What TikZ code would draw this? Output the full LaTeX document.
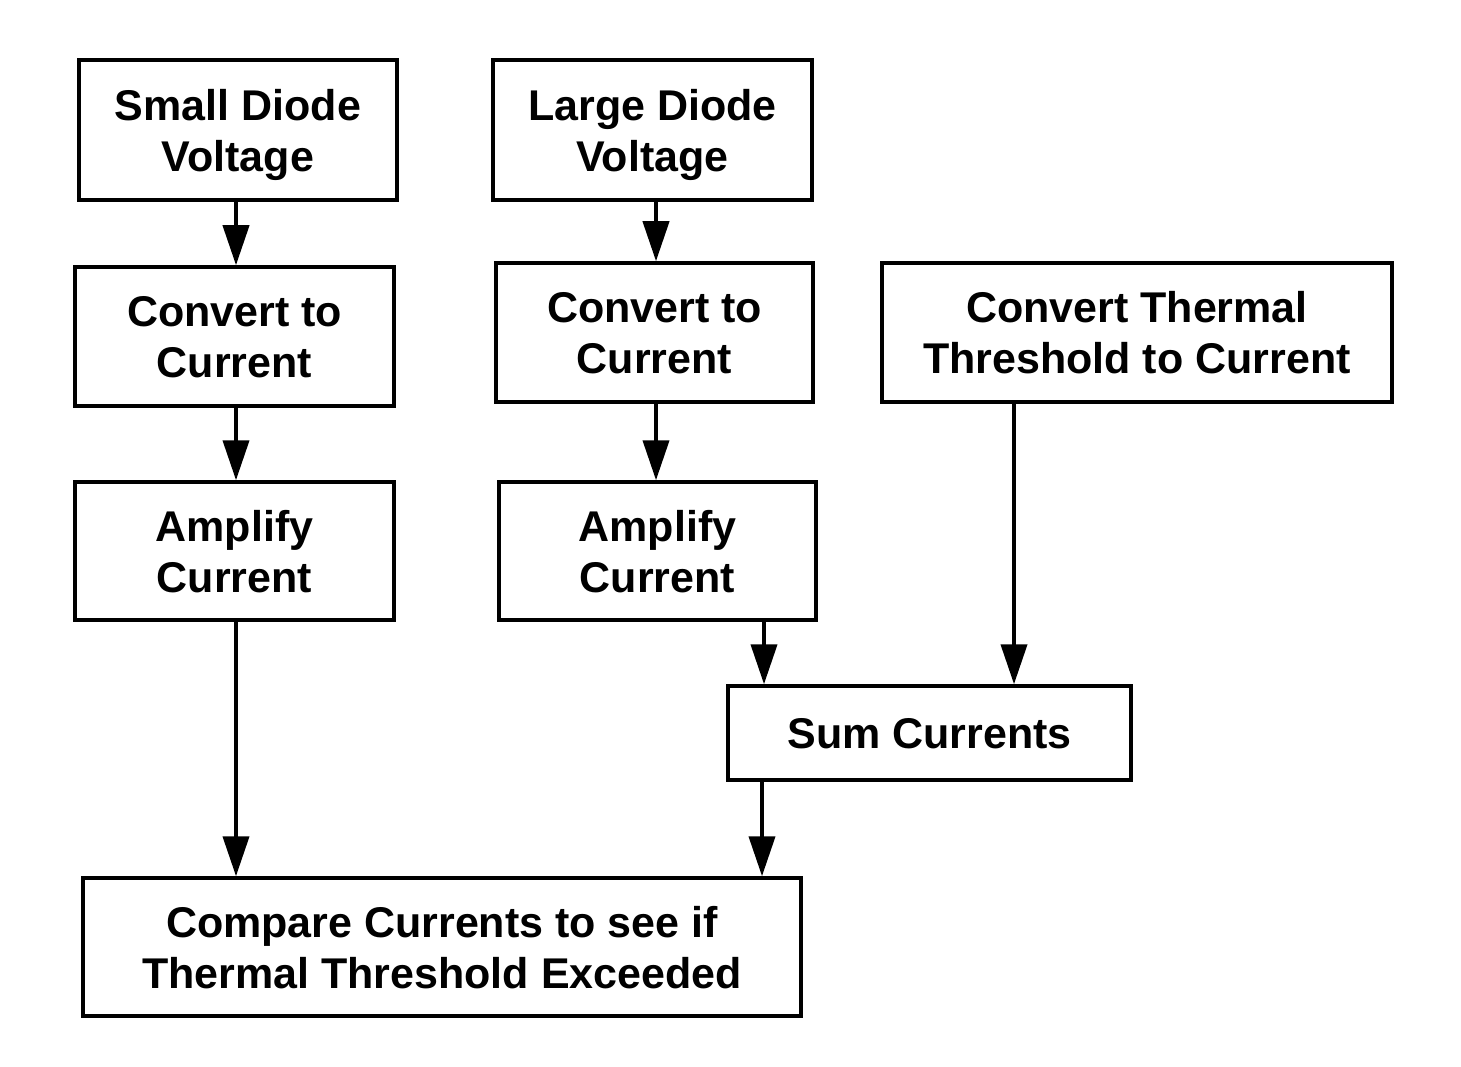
\documentclass[tikz,border=0pt]{standalone}
\usepackage{fontspec}
\setmainfont{Liberation Sans}
\usetikzlibrary{arrows.meta}
\begin{document}
\begin{tikzpicture}[x=1pt,y=-1pt,
 box/.style={draw, line width=3.5pt, align=center, font=\fontsize{43}{51}\selectfont\bfseries, inner sep=0pt, text depth=0pt},
 arr/.style={line width=4pt, -{Triangle[length=40pt,width=26pt]}}]
\useasboundingbox (0,0) rectangle (1461,1067);
\node[box, minimum width=318pt, minimum height=140pt] (SD) at (238,130) {Small Diode\\Voltage};
\node[box, minimum width=319pt, minimum height=140pt] (LD) at (652.5,130) {Large Diode\\Voltage};
\node[box, minimum width=319pt, minimum height=139pt] (C1) at (234.5,336.5) {Convert to\\Current};
\node[box, minimum width=317pt, minimum height=139pt] (C2) at (654.5,332.5) {Convert to\\Current};
\node[box, minimum width=510pt, minimum height=139pt] (CT) at (1137,332.5) {Convert Thermal\\Threshold to Current};
\node[box, minimum width=319pt, minimum height=138pt] (A1) at (234.5,551) {Amplify\\Current};
\node[box, minimum width=317pt, minimum height=138pt] (A2) at (657.5,551) {Amplify\\Current};
\node[box, minimum width=403pt, minimum height=94pt] (Sum) at (929.5,733) {Sum Currents};
\node[box, minimum width=718pt, minimum height=138pt] (Cmp) at (442,947) {Compare Currents to see if\\Thermal Threshold Exceeded};
\coordinate (xa) at (236,0);
\coordinate (xb) at (656,0);
\coordinate (xc) at (764,0);
\coordinate (xd) at (1014,0);
\coordinate (xe) at (762,0);
\draw[arr] (SD.south -| xa) -- (C1.north -| xa);
\draw[arr] (C1.south -| xa) -- (A1.north -| xa);
\draw[arr] (A1.south -| xa) -- (Cmp.north -| xa);
\draw[arr] (LD.south -| xb) -- (C2.north -| xb);
\draw[arr] (C2.south -| xb) -- (A2.north -| xb);
\draw[arr] (A2.south -| xc) -- (Sum.north -| xc);
\draw[arr] (CT.south -| xd) -- (Sum.north -| xd);
\draw[arr] (Sum.south -| xe) -- (Cmp.north -| xe);
\end{tikzpicture}
\end{document}
